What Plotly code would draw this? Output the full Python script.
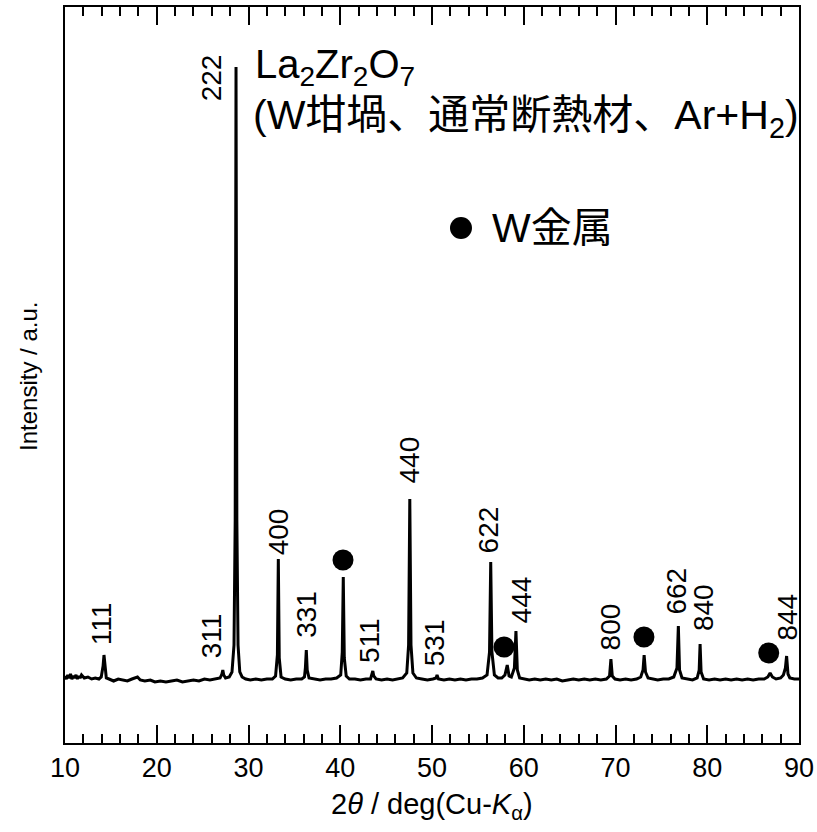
import plotly.graph_objects as go

# ---- XRD profile (2theta in deg, intensity in a.u.) ----
two_theta = [
    10.0, 10.15, 10.3, 10.45, 10.6, 10.75, 10.9, 11.05, 11.2, 11.35, 11.5, 11.65, 11.8,
    12.1, 12.5, 12.9, 13.3, 13.7, 13.95,
    14.15, 14.25, 14.35, 14.5, 14.8, 15.3, 15.8, 16.3, 16.8, 17.3, 17.9, 18.2, 18.7,
    19.3, 19.8, 20.4, 21.0, 21.6, 22.2, 22.8, 23.4, 24.0, 24.6, 25.2, 25.8, 26.4,
    26.9, 27.1, 27.2, 27.3, 27.5, 27.9, 28.2, 28.42, 28.55, 28.64, 28.73, 28.86,
    29.05, 29.3, 29.7, 30.2, 30.8, 31.4, 32.0, 32.6, 32.95, 33.15, 33.25, 33.35,
    33.55, 34.0, 34.6, 35.2, 35.8, 36.1, 36.2, 36.3, 36.4, 36.6, 37.2, 37.8, 38.4,
    39.0, 39.6, 40.05, 40.22, 40.33, 40.44, 40.65, 41.0, 41.6, 42.2, 42.8, 43.3,
    43.45, 43.55, 43.65, 43.9, 44.5, 45.1, 45.7, 46.3, 46.8, 47.25, 47.45, 47.58,
    47.71, 47.92, 48.3, 48.9, 49.5, 50.1, 50.45, 50.55, 50.7, 51.3, 51.9, 52.5,
    53.1, 53.7, 54.3, 54.9, 55.5, 56.0, 56.27, 56.4, 56.53, 56.8, 57.2, 57.6,
    57.95, 58.2, 58.4, 58.65, 58.98, 59.15, 59.3, 59.55, 60.0, 60.6, 61.2, 61.8,
    62.4, 63.0, 63.6, 64.2, 64.8, 65.4, 66.0, 66.6, 67.2, 67.8, 68.4, 69.0, 69.35,
    69.5, 69.65, 69.95, 70.5, 71.1, 71.7, 72.3, 72.75, 73.0, 73.12, 73.27, 73.55,
    74.0, 74.6, 75.2, 75.8, 76.35, 76.7, 76.85, 76.98, 77.25, 77.8, 78.4, 78.9,
    79.12, 79.22, 79.33, 79.6, 80.2, 80.8, 81.4, 82.0, 82.6, 83.2, 83.8, 84.4,
    85.0, 85.6, 86.2, 86.6, 86.85, 87.1, 87.5, 88.0, 88.3, 88.52, 88.65, 88.8,
    89.0, 89.5, 90.0,
]
intensity = [
    4, 1, 5, 2, 6, 1, 4, 2, 5, 1, 4, 2, 5,
    2, 3, 1, 2, 1, 3,
    14, 25, 12, 2, 1, -1, 1, 0, -1, 1, 3, 0, -1,
    0, -2, -1, -2, -1, 0, -2, -1, 0, -1, 1, 0, 1,
    2, 6, 10, 5, 2, 3, 8, 35, 160, 613, 160, 35,
    8, 3, 1, 0, 1, 0, 1, 1, 4, 25, 121, 22,
    3, 1, 0, 1, 1, 3, 12, 30, 10, 2, 1, 0, 1,
    1, 2, 5, 28, 103, 22, 4, 1, 1, 0, 1, 1,
    5, 9, 4, 1, 0, 1, 0, 1, 2, 7, 35, 181,
    35, 7, 2, 1, 0, 1, 2, 5, 1, 0, 1, 0,
    1, 0, 1, 1, 2, 5, 28, 118, 28, 5, 2, 2,
    5, 15, 4, 3, 12, 49, 10, 2, 1, 0, 1, 0,
    1, 0, 1, -1, 0, 1, 0, 1, 0, 1, 0, 1, 4,
    21, 4, 1, 0, 1, 0, 1, 3, 10, 25, 8, 2,
    1, 0, 1, 1, 3, 12, 54, 10, 2, 1, 0, 2,
    10, 36, 8, 1, 0, 1, 0, 1, 0, 1, 0, 1,
    0, 1, 1, 3, 7, 3, 1, 2, 5, 12, 24, 6,
    2, 1, 1,
]

# ---- Miller-index labels (label centre x, label bottom y) ----
hkl_labels = ["111", "311", "222", "400", "331", "511", "440", "531",
              "622", "444", "800", "662", "840", "844"]
hkl_x = [14.0, 26.0, 26.0, 33.3, 36.3, 43.2, 47.6, 50.3,
         56.2, 59.8, 69.5, 76.6, 79.6, 88.7]
hkl_y = [33, 20, 577, 123, 40, 15, 195, 12,
         125, 55, 28, 63, 47, 37]

# ---- W metal peak markers ----
w_x = [40.3, 57.85, 73.1, 86.7]
w_y = [120, 33, 43, 27]

FONT = "Liberation Sans, Arial, Noto Sans CJK JP, sans-serif"

W, H = 817, 832
L, R, T, B = 65, 18, 7, 89
pw, ph = W - L - R, H - T - B


def px(xp):
    return (xp - L) / pw


def py(yp):
    return (H - B - yp) / ph


fig = go.Figure()
fig.add_trace(go.Scatter(x=two_theta, y=intensity, mode="lines",
                         line=dict(color="black", width=3), showlegend=False,
                         hoverinfo="skip"))
fig.add_trace(go.Scatter(x=w_x, y=w_y, mode="markers",
                         marker=dict(color="black", size=21), showlegend=False))
# legend dot
fig.add_trace(go.Scatter(x=[53.16], y=[452], mode="markers",
                         marker=dict(color="black", size=22), showlegend=False))

for t, x, y in zip(hkl_labels, hkl_x, hkl_y):
    fig.add_annotation(x=x, y=y, text=t, textangle=-90, showarrow=False,
                       xanchor="center", yanchor="bottom",
                       font=dict(size=28, color="black", family=FONT))

fig.add_annotation(xref="paper", yref="paper", x=px(253), y=py(67),
                   text="La<sub>2</sub>Zr<sub>2</sub>O<sub>7</sub>",
                   showarrow=False, xanchor="left", yanchor="middle",
                   font=dict(size=40, color="black", family=FONT))
fig.add_annotation(xref="paper", yref="paper", x=px(251), y=py(118),
                   text="(W坩堝、通常断熱材、Ar+H<sub>2</sub>)",
                   showarrow=False, xanchor="left", yanchor="middle",
                   font=dict(size=41, color="black", family=FONT))
fig.add_annotation(xref="paper", yref="paper", x=px(490), y=py(228),
                   text="W金属", showarrow=False, xanchor="left", yanchor="middle",
                   font=dict(size=41, color="black", family=FONT))
fig.add_annotation(xref="paper", yref="paper", x=px(432), y=py(806),
                   text="2<i>θ</i> / deg(Cu-<i>K</i><sub>α</sub>)",
                   showarrow=False, xanchor="center", yanchor="middle",
                   font=dict(size=29, color="black", family=FONT))
fig.add_annotation(xref="paper", yref="paper", x=px(28), y=py(377),
                   text="Intensity / a.u.", textangle=-90,
                   showarrow=False, xanchor="center", yanchor="middle",
                   font=dict(size=24, color="black", family=FONT))

fig.update_layout(
    width=W, height=H,
    margin=dict(l=L, r=R, t=T, b=B, autoexpand=False),
    plot_bgcolor="white", paper_bgcolor="white",
    font=dict(family=FONT, color="black"),
    xaxis=dict(range=[10, 90], dtick=10, tick0=10, ticks="inside", ticklen=18,
               tickwidth=2, tickcolor="black", showline=True, linewidth=2,
               linecolor="black", mirror="ticks", showgrid=False, zeroline=False,
               automargin=False, ticklabeloverflow="allow",
               tickfont=dict(size=27, color="black", family=FONT),
               minor=dict(dtick=2, ticks="inside", ticklen=9, tickwidth=2,
                          tickcolor="black", showgrid=False)),
    yaxis=dict(range=[-63, 673], showticklabels=False, ticks="", showline=True,
               linewidth=2, linecolor="black", mirror=True, showgrid=False,
               zeroline=False, automargin=False),
)

fig.write_html("out.html",
               config={"displayModeBar": False, "responsive": False},
               post_script="document.body.style.margin='0';"
                           "document.body.style.overflow='hidden';")
